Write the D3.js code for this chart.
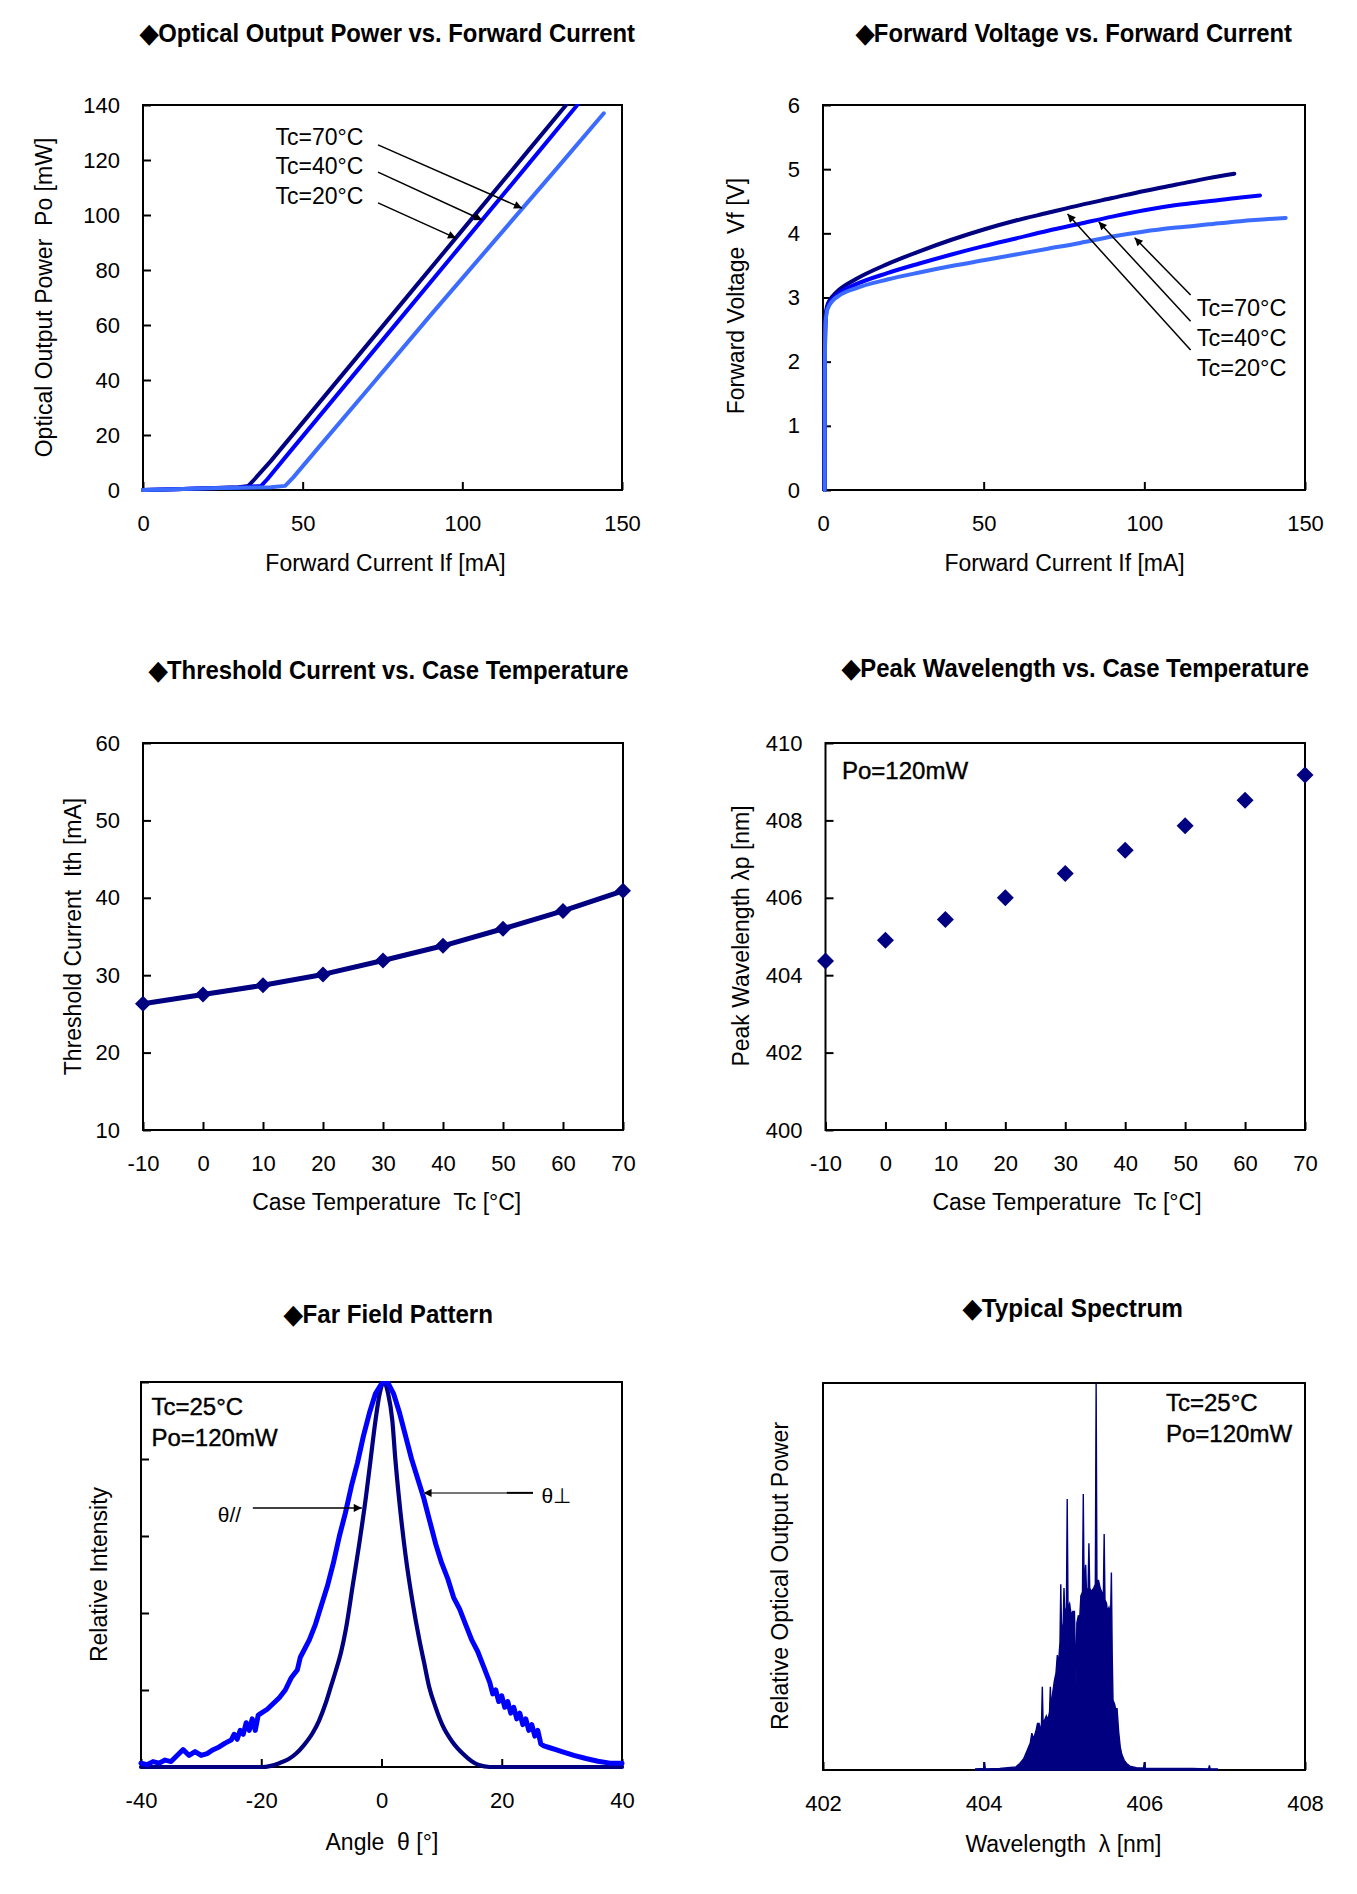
<!DOCTYPE html>
<html><head><meta charset="utf-8">
<script src="https://cdn.jsdelivr.net/npm/d3@7"></script>
<style>
body{margin:0;background:#fff;}
svg text{font-family:"Liberation Sans",Arial,sans-serif;fill:#000;}
svg text.title{font-family:"Liberation Sans Narrow","Arial Narrow","Liberation Sans",sans-serif;font-weight:bold;font-size:26px;}
</style></head><body>
<svg id="c" width="1357" height="1894"></svg>
<script>
// ---------- DATA ----------
// Optical output power vs forward current  [If mA, Po mW]
const poTc20 = [[0,0],[10,0.3],[20,0.6],[30,1.0],[33,1.5],[35,4],[40,10.5],[60,38.5],[80,66.5],[100,94.5],[120,122.5],[132.5,140]];
const poTc40 = [[0,0],[10,0.3],[20,0.6],[30,0.9],[37,1.5],[39,4],[45,12.5],[60,33.5],[80,61.5],[100,89.5],[120,117.5],[136,140]];
const poTc70 = [[0,0],[10,0.3],[20,0.6],[30,0.8],[40,1.0],[44.5,1.5],[47,4.5],[55,15.5],[70,36],[90,63.5],[110,90.5],[130,117.5],[144.3,137]];
// Forward voltage vs forward current  [If mA, Vf V]
const vfTc20 = [[0.5,0],[0.55,2.0],[0.8,2.7],[1.2,2.85],[2,2.95],[3,3.02],[5,3.12],[10,3.28],[20,3.52],[30,3.72],[40,3.9],[50,4.06],[60,4.2],[70,4.32],[80,4.44],[90,4.55],[100,4.66],[110,4.76],[120,4.86],[128,4.93]];
const vfTc40 = [[0.5,0],[0.55,1.9],[0.8,2.65],[1.2,2.82],[2,2.92],[3,2.98],[5,3.07],[10,3.2],[20,3.38],[30,3.53],[40,3.67],[50,3.8],[60,3.92],[70,4.04],[80,4.15],[90,4.26],[100,4.36],[110,4.44],[120,4.5],[130,4.56],[136,4.59]];
const vfTc70 = [[0.5,0],[0.55,1.8],[0.8,2.6],[1.2,2.78],[2,2.88],[3,2.95],[5,3.03],[10,3.14],[20,3.28],[30,3.39],[40,3.49],[50,3.58],[60,3.67],[70,3.76],[80,3.85],[90,3.95],[100,4.03],[110,4.09],[120,4.14],[130,4.19],[144,4.24]];
// Threshold current & peak wavelength vs case temperature
const caseTemps = [-10,0,10,20,30,40,50,60,70];
const thresholdCurrent = [26.3,27.5,28.7,30.1,31.9,33.8,36.0,38.3,40.9];
const peakWavelength = [404.37,404.9,405.44,406.0,406.63,407.23,407.86,408.52,409.17];
// Far field pattern [angle deg, relative intensity]
const ffpPerp = [[-40,0.01],[-39,0.006],[-38,0.014],[-37,0.01],[-36,0.018],[-35,0.014],[-34,0.03],[-33,0.045],[-32,0.03],[-31,0.04],[-30,0.03],[-29,0.035],[-28,0.045],[-27,0.052],[-26,0.062],[-25,0.07],[-24.5,0.085],[-24,0.072],[-23.5,0.095],[-23,0.085],[-22.5,0.115],[-22,0.095],[-21.5,0.125],[-21,0.095],[-20.5,0.135],[-20,0.14],[-19,0.15],[-18,0.165],[-17,0.18],[-16,0.2],[-15,0.232],[-14.5,0.242],[-14,0.252],[-13.5,0.285],[-13,0.3],[-12,0.33],[-11,0.37],[-10,0.42],[-9,0.47],[-8,0.53],[-7,0.6],[-6,0.66],[-5,0.73],[-4,0.79],[-3,0.86],[-2,0.92],[-1,0.97],[0,0.995],[0.5,1.0],[1,1.0],[2,0.97],[3,0.92],[4,0.86],[5,0.8],[6,0.75],[7,0.7],[8,0.64],[9,0.58],[10,0.53],[11,0.49],[12,0.44],[13,0.41],[14,0.37],[15,0.33],[16,0.3],[17,0.26],[18,0.22],[18.5,0.19],[19,0.2],[19.5,0.17],[20,0.185],[20.5,0.155],[21,0.17],[21.5,0.14],[22,0.155],[22.5,0.125],[23,0.14],[23.5,0.11],[24,0.125],[24.5,0.095],[25,0.11],[25.5,0.08],[26,0.095],[26.5,0.06],[27,0.055],[28,0.05],[29,0.045],[30,0.04],[32,0.03],[34,0.022],[36,0.015],[38,0.01],[40,0.01]];
const ffpPara = [[-40,0],[-19.8,0],[-17,0.01],[-15.5,0.02],[-14.2,0.035],[-13,0.055],[-11.5,0.087],[-10.4,0.12],[-9.3,0.165],[-8.4,0.21],[-7.6,0.25],[-6.7,0.3],[-5.9,0.36],[-4.8,0.47],[-3.7,0.58],[-2.6,0.7],[-1.8,0.8],[-1,0.9],[-0.3,0.97],[0.4,1.0],[1.1,0.97],[1.8,0.9],[2.3,0.8],[2.9,0.7],[4,0.55],[5.2,0.425],[6.3,0.33],[7.1,0.27],[7.9,0.21],[9,0.155],[10.1,0.11],[11.8,0.065],[13.5,0.035],[15,0.015],[16.2,0.005],[18,0],[40,0]];
// Typical spectrum [wavelength nm, relative power]
const spectrum = [[403.90,0.003],[404.00,0.004],[404.01,0.02],[404.02,0.003],[404.20,0.004],[404.40,0.008],[404.45,0.017],[404.50,0.03],[404.54,0.05],[404.58,0.07],[404.60,0.095],[404.62,0.08],[404.65,0.1],[404.67,0.12],[404.69,0.12],[404.70,0.10],[404.72,0.12],[404.73,0.215],[404.74,0.12],[404.76,0.13],[404.78,0.14],[404.80,0.13],[404.82,0.15],[404.83,0.215],[404.84,0.16],[404.86,0.2],[404.88,0.23],[404.90,0.25],[404.917,0.297],[404.93,0.27],[404.95,0.33],[404.96,0.48],[404.97,0.35],[404.99,0.38],[405.00,0.47],[405.01,0.40],[405.03,0.42],[405.04,0.70],[405.05,0.42],[405.07,0.43],[405.09,0.40],[405.11,0.41],[405.13,0.41],[405.15,0.22],[405.16,0.38],[405.18,0.40],[405.19,0.37],[405.21,0.45],[405.23,0.46],[405.24,0.713],[405.25,0.47],[405.27,0.53],[405.28,0.46],[405.30,0.47],[405.31,0.586],[405.32,0.47],[405.34,0.46],[405.35,0.465],[405.37,0.47],[405.39,0.48],[405.40,1.0],[405.41,0.49],[405.43,0.49],[405.45,0.47],[405.47,0.46],[405.49,0.45],[405.50,0.61],[405.51,0.44],[405.53,0.43],[405.54,0.41],[405.56,0.42],[405.58,0.40],[405.59,0.51],[405.60,0.30],[405.61,0.18],[405.63,0.17],[405.65,0.15],[405.66,0.16],[405.68,0.10],[405.70,0.06],[405.72,0.04],[405.75,0.025],[405.78,0.017],[405.82,0.01],[405.90,0.006],[405.99,0.005],[406.00,0.02],[406.01,0.004],[406.30,0.004],[406.60,0.004],[406.80,0.003],[406.81,0.012],[406.82,0.003],[406.91,0.003]];
// Tick values
const ticksCurrent = [0,50,100,150];
const ticksPower = [0,20,40,60,80,100,120,140];
const ticksVoltage = [0,1,2,3,4,5,6];
const ticksTemp = [-10,0,10,20,30,40,50,60,70];
const ticksIth = [10,20,30,40,50,60];
const ticksLambdaP = [400,402,404,406,408,410];
const ticksAngle = [-40,-20,0,20,40];
const ticksRel = [0,0.2,0.4,0.6,0.8,1];
const ticksWl = [402,404,406,408];

// ---------- DRAWING ----------
const NAVY="#000080", BLUE="#0000ff", LIGHT="#3c6cff";
const svg=d3.select("#c");
const defs=svg.append("defs");
defs.append("marker").attr("id","ah").attr("viewBox","0 0 10 10").attr("refX",10).attr("refY",5)
  .attr("markerWidth",11).attr("markerHeight",8).attr("markerUnits","userSpaceOnUse").attr("orient","auto")
  .append("path").attr("d","M0,0L10,5L0,10Z").attr("fill","#000");

const squareDiamond={draw(ctx,size){const r=Math.sqrt(size/2);ctx.moveTo(0,-r);ctx.lineTo(r,0);ctx.lineTo(0,r);ctx.lineTo(-r,0);ctx.closePath();}};
const fmt=d=>String(d);

function panel(o){
  const [x0,x1,y0,y1]=o.box;
  const g=svg.append("g");
  const x=d3.scaleLinear().domain(o.xd).range([x0,x1]);
  const y=d3.scaleLinear().domain(o.yd).range([y1,y0]);
  const cid="clip"+o.id;
  defs.append("clipPath").attr("id",cid).append("rect").attr("x",x0-3).attr("y",y0-1).attr("width",x1-x0+6).attr("height",y1-y0+4);
  g.append("rect").attr("x",x0).attr("y",y0).attr("width",x1-x0).attr("height",y1-y0)
    .attr("fill","none").attr("stroke","#000").attr("stroke-width",2);
  const style=s=>{s.select(".domain").remove();s.attr("font-size",22);
    s.selectAll("line").attr("stroke","#000").attr("stroke-width",2);
    s.selectAll("text").attr("fill","#000");};
  g.append("g").attr("transform",`translate(0,${y1})`)
    .call(d3.axisBottom(x).tickValues(o.xt).tickSizeInner(-8).tickSizeOuter(0).tickPadding(25).tickFormat(fmt)).call(style);
  if(o.yt){
    g.append("g").attr("transform",`translate(${x0},0)`)
      .call(d3.axisLeft(y).tickValues(o.yt).tickSizeInner(-8).tickSizeOuter(0).tickPadding(23).tickFormat(o.ylabels===false?()=>"":fmt)).call(style);
  }
  g.append("text").attr("class","title").attr("x",o.title[1]).attr("y",o.title[2])
    .attr("textLength",o.title[3]).attr("lengthAdjust","spacingAndGlyphs").text(o.title[0]);
  g.append("text").attr("x",o.xl[1]).attr("y",o.xl[2]).attr("text-anchor","middle").attr("dominant-baseline","central")
    .attr("font-size",23).style("white-space","pre").text(o.xl[0]);
  g.append("text").attr("transform",`translate(${o.yl[1]},${o.yl[2]}) rotate(-90)`).attr("text-anchor","middle")
    .attr("dominant-baseline","central").attr("font-size",23).style("white-space","pre").text(o.yl[0]);
  const plot=g.append("g").attr("clip-path",`url(#${cid})`);
  return {g,plot,x,y};
}
function curve(p,data,color,w,c){
  p.plot.append("path").datum(data).attr("fill","none").attr("stroke",color).attr("stroke-width",w)
    .attr("stroke-linejoin","round").attr("stroke-linecap","round")
    .attr("d",d3.line().x(d=>p.x(d[0])).y(d=>p.y(d[1])).curve(c||d3.curveMonotoneX));
}
function arrow(p,a,b){
  p.g.append("line").attr("x1",p.x(a[0])).attr("y1",p.y(a[1])).attr("x2",p.x(b[0])).attr("y2",p.y(b[1]))
    .attr("stroke","#000").attr("stroke-width",1.5).attr("marker-end","url(#ah)");
}
function label(p,t,xv,yv,size,anchor){
  p.g.append("text").attr("x",p.x(xv)).attr("y",p.y(yv)).attr("font-size",size||23)
    .attr("text-anchor",anchor||"start").attr("dominant-baseline","central").text(t);
}

// Chart 1
const c1=panel({id:1,box:[143,622,105,490],xd:[0,150],yd:[0,140],xt:ticksCurrent,yt:ticksPower,
  title:["◆Optical Output Power vs. Forward Current",140,41.5,495],
  xl:["Forward Current If [mA]",385.5,563],yl:["Optical Output Power  Po [mW]",44,297.5]});
curve(c1,poTc20,NAVY,4,d3.curveLinear);
curve(c1,poTc40,BLUE,4,d3.curveLinear);
curve(c1,poTc70,LIGHT,4,d3.curveLinear);
label(c1,"Tc=70°C",41.5,128.5);label(c1,"Tc=40°C",41.5,118);label(c1,"Tc=20°C",41.5,107);
arrow(c1,[73.6,125.5],[118.7,102.5]);arrow(c1,[73.6,115.6],[106.2,98.2]);arrow(c1,[73.6,104.4],[98,91.6]);

// Chart 2
const c2=panel({id:2,box:[823,1305,105,490],xd:[0,150],yd:[0,6],xt:ticksCurrent,yt:ticksVoltage,
  title:["◆Forward Voltage vs. Forward Current",855.5,41.5,436.5],
  xl:["Forward Current If [mA]",1064.6,563],yl:["Forward Voltage  Vf [V]",736,296]});
curve(c2,vfTc20,NAVY,4);
curve(c2,vfTc40,BLUE,4);
curve(c2,vfTc70,LIGHT,4);
label(c2,"Tc=70°C",116.3,2.84,23.5);label(c2,"Tc=40°C",116.3,2.37,23.5);label(c2,"Tc=20°C",116.3,1.9,23.5);
arrow(c2,[114.4,3.04],[97,3.93]);arrow(c2,[114.4,2.63],[85.8,4.18]);arrow(c2,[114.4,2.18],[76.1,4.30]);

// Chart 3
const c3=panel({id:3,box:[143,623,743,1130],xd:[-10,70],yd:[10,60],xt:ticksTemp,yt:ticksIth,
  title:["◆Threshold Current vs. Case Temperature",148.6,678.5,480],
  xl:["Case Temperature  Tc [°C]",386.7,1202.4],yl:["Threshold Current  Ith [mA]",72.5,936.5]});
const ith=caseTemps.map((t,i)=>[t,thresholdCurrent[i]]);
c3.g.append("path").datum(ith).attr("fill","none").attr("stroke",NAVY).attr("stroke-width",5)
  .attr("stroke-linejoin","round").attr("d",d3.line().x(d=>c3.x(d[0])).y(d=>c3.y(d[1])));
c3.g.selectAll(".m3").data(ith).join("path").attr("transform",d=>`translate(${c3.x(d[0])},${c3.y(d[1])})`)
  .attr("d",d3.symbol().type(squareDiamond).size(2*8*8)).attr("fill",NAVY);

// Chart 4
const c4=panel({id:4,box:[825.5,1305,743,1130],xd:[-10,70],yd:[400,410],xt:ticksTemp,yt:ticksLambdaP,
  title:["◆Peak Wavelength vs. Case Temperature",842,677,467],
  xl:["Case Temperature  Tc [°C]",1067,1202.4],yl:["Peak Wavelength λp [nm]",741,936]});
c4.g.selectAll(".m4").data(caseTemps.map((t,i)=>[t,peakWavelength[i]])).join("path")
  .attr("transform",d=>`translate(${c4.x(d[0])},${c4.y(d[1])})`)
  .attr("d",d3.symbol().type(squareDiamond).size(2*8.5*8.5)).attr("fill",NAVY);
c4.g.append("text").attr("x",842).attr("y",779).attr("font-size",24).attr("stroke","#000").attr("stroke-width",0.4).text("Po=120mW");

// Chart 5
const c5=panel({id:5,box:[141,622,1382,1767],xd:[-40,40],yd:[0,1],xt:ticksAngle,yt:ticksRel,ylabels:false,
  title:["◆Far Field Pattern",284,1322.5,209],
  xl:["Angle  θ [°]",381.9,1841.6],yl:["Relative Intensity",99,1574.5]});
curve(c5,ffpPara,NAVY,4.2);
curve(c5,ffpPerp,BLUE,5,d3.curveLinear);
c5.g.append("text").attr("x",151.5).attr("y",1415).attr("font-size",24).attr("stroke","#000").attr("stroke-width",0.4).text("Tc=25°C");
c5.g.append("text").attr("x",151.5).attr("y",1446).attr("font-size",24).attr("stroke","#000").attr("stroke-width",0.4).text("Po=120mW");
arrow(c5,[-21.4,0.673],[-3.28,0.673]);
c5.g.append("line").attr("x1",c5.x(20.8)).attr("y1",c5.y(0.712)).attr("x2",c5.x(7.0)).attr("y2",c5.y(0.712))
  .attr("stroke","#777").attr("stroke-width",2).attr("marker-end","url(#ah)");
c5.g.append("line").attr("x1",c5.x(25.2)).attr("y1",c5.y(0.712)).attr("x2",c5.x(20.8)).attr("y2",c5.y(0.712))
  .attr("stroke","#000").attr("stroke-width",2);
label(c5,"θ//",-25.3,0.655,21,"middle");
label(c5,"θ⊥",29.1,0.706,21,"middle");

// Chart 6
const c6=panel({id:6,box:[823,1305,1383,1770],xd:[402,408],yd:[0,1],xt:ticksWl,yt:null,
  title:["◆Typical Spectrum",963,1316.5,220],
  xl:["Wavelength  λ [nm]",1063.4,1844],yl:["Relative Optical Output Power",779.5,1576]});
c6.plot.append("path").datum(spectrum).attr("fill",NAVY).attr("stroke",NAVY).attr("stroke-width",1.4)
  .attr("stroke-linejoin","miter")
  .attr("d",d3.area().x(d=>c6.x(d[0])).y0(c6.y(0)).y1(d=>c6.y(d[1])));
c6.g.append("text").attr("x",1166).attr("y",1410.5).attr("font-size",24).attr("stroke","#000").attr("stroke-width",0.4).text("Tc=25°C");
c6.g.append("text").attr("x",1166).attr("y",1441.5).attr("font-size",24).attr("stroke","#000").attr("stroke-width",0.4).text("Po=120mW");
</script></body></html>
